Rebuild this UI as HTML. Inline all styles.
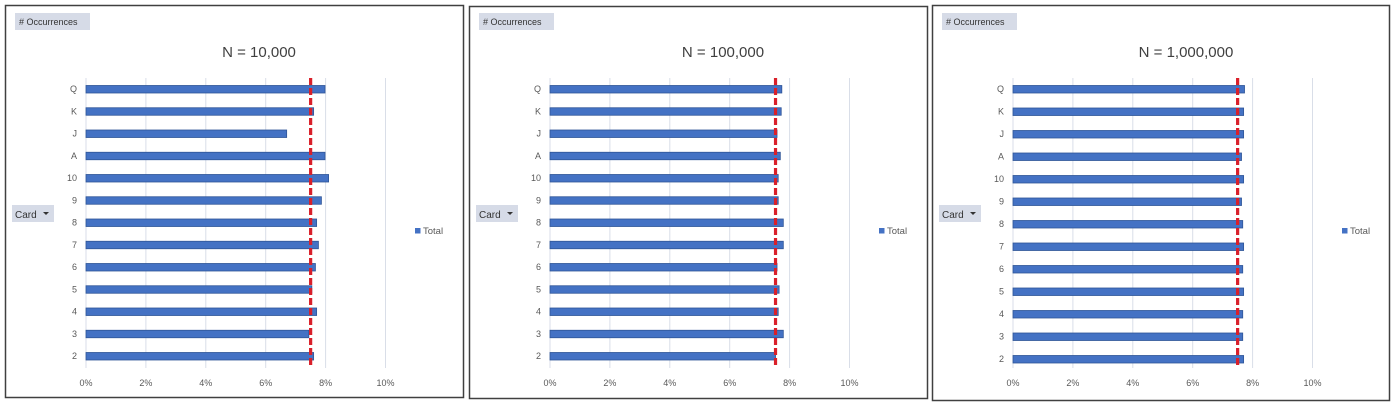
<!DOCTYPE html>
<html><head><meta charset="utf-8"><style>
body{margin:0;background:#fff;width:1400px;height:407px;overflow:hidden;font-family:"Liberation Sans",sans-serif}
svg{display:block}
</style></head><body>
<svg id="c" width="1400" height="407"></svg>
<script>
const categories=["Q","K","J","A","10","9","8","7","6","5","4","3","2"];
const titles=["N = 10,000","N = 100,000","N = 1,000,000"];
const values10k=[7.98,7.6,6.7,7.98,8.1,7.86,7.7,7.76,7.66,7.54,7.7,7.44,7.6];
const values100k=[7.74,7.72,7.58,7.69,7.62,7.62,7.79,7.79,7.58,7.65,7.62,7.79,7.53];
const values1m=[7.73,7.7,7.7,7.63,7.7,7.63,7.67,7.7,7.67,7.7,7.67,7.67,7.7];
const expectedPct=[7.5,7.53,7.5];
const tickLabels=["0%","2%","4%","6%","8%","10%"];
const tickValues=[0,2,4,6,8,10];
const series=[values10k,values100k,values1m];
const NS="http://www.w3.org/2000/svg";
const svg=document.getElementById('c');
function mk(tag,attrs,parent,text){const e=document.createElementNS(NS,tag);for(const k in attrs)e.setAttribute(k,attrs[k]);if(text!==undefined)e.textContent=text;(parent||svg).appendChild(e);return e;}
const panels=[{left:5,right:463,top:5,bottom:397,y0:89,y1:356},{left:469,right:927,top:6,bottom:398,y0:89,y1:356},{left:932,right:1389,top:5,bottom:400,y0:89,y1:359}];
panels.forEach((p,pi)=>{
  const g=mk('g',{});
  
  
  const frame=mk('rect',{x:p.left+0.5,y:p.top+0.5,width:p.right-p.left,height:p.bottom-p.top,fill:'#fff',stroke:'#404040','stroke-width':1.5},g);
  
  const ox=p.left+81;const px=29.95;
  const xs=v=>ox+v*px;
  const ys=i=>p.y0+i*(p.y1-p.y0)/(categories.length-1);
  // field buttons
  const b1=mk('rect',{x:p.left+10,y:13,width:75,height:17,fill:'#d6dbe7'},g);
  
  const t1=mk('text',{x:p.left+14,y:25,'font-size':9,fill:'#333'},g,'# Occurrences');
  
  const b2=mk('rect',{x:p.left+7,y:205,width:42,height:17,fill:'#d6dbe7'},g);
  
  const t2=mk('text',{x:p.left+10,y:218,'font-size':10,fill:'#333'},g,'Card');
  
  const tri=mk('path',{d:`M${p.left+38} ${212}l6 0l-3 3z`,fill:'#333'},g);
  
  const tt=mk('text',{x:p.left+254,y:57,'font-size':15,fill:'#404040','text-anchor':'middle'},g,titles[pi]);
  
  tickValues.forEach((v,i)=>{
    const gl=mk('line',{x1:xs(v),x2:xs(v),y1:78,y2:368,stroke:'#d9dee8','stroke-width':1},g);
    
    const tl=mk('text',{x:xs(v),y:386,'font-size':9,fill:'#595959','text-anchor':'middle'},g,tickLabels[i]);
    
  });
  series[pi].forEach((v,i)=>{
    const y=ys(i);
    const cl=mk('text',{x:ox-9,y:y+3,'font-size':9,fill:'#595959','text-anchor':'end'},g,categories[i]);
    
    const bar=mk('rect',{x:xs(0),y:y-3.5,width:xs(v)-xs(0),height:7.5,fill:'#4472c4',stroke:'#2f5597','stroke-width':0.8},g);
    
  });
  const rl=mk('line',{x1:xs(expectedPct[pi]),x2:xs(expectedPct[pi]),y1:78,y2:368,stroke:'#d9202a','stroke-width':3.2,'stroke-dasharray':'7 3'},g);
  
  const ls=mk('rect',{x:p.left+410,y:228,width:5.5,height:5.5,fill:'#4472c4'},g);
  
  const lt=mk('text',{x:p.left+418,y:234,'font-size':9.5,fill:'#595959'},g,'Total');
  
});
</script>
</body></html>
